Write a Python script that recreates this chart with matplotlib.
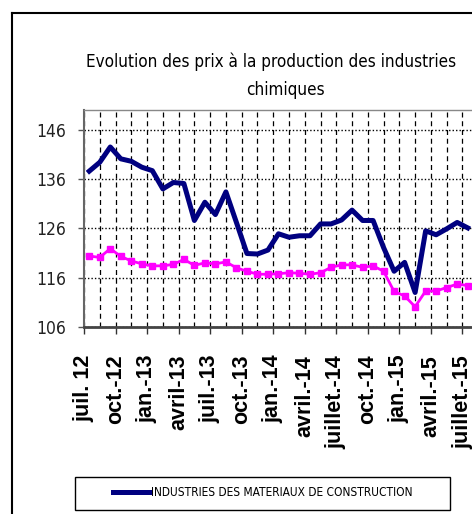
import matplotlib
matplotlib.use("Agg")
import matplotlib.pyplot as plt
from matplotlib import font_manager
from matplotlib.lines import Line2D
from matplotlib.patches import Rectangle
from matplotlib.ticker import FixedLocator

# monthly index, juil. 2012 -> juil. 2015
mois = list(range(37))
tick_labels = ["juil. 12", "oct.-12", "jan.-13", "avril-13", "juil.-13", "oct.-13",
               "jan.-14", "avril.-14", "juillet.-14", "oct.-14", "jan.-15",
               "avril.-15", "juillet.-15"]
materiaux = [137.6, 139.4, 142.5, 140.1, 139.6, 138.4, 137.7, 134.0, 135.3, 135.1,
             127.6, 131.3, 128.8, 133.4, 127.2, 120.9, 120.8, 121.6, 124.9, 124.2,
             124.5, 124.5, 126.9, 126.9, 127.7, 129.7, 127.6, 127.6, 122.1, 117.3,
             119.1, 113.0, 125.5, 124.7, 125.9, 127.2, 126.1]
chimie = [120.4, 120.1, 121.9, 120.3, 119.4, 118.8, 118.4, 118.4, 118.7, 119.7,
          118.5, 119.0, 118.8, 119.2, 118.0, 117.3, 116.7, 116.7, 116.8, 117.0,
          116.9, 116.7, 117.0, 118.1, 118.6, 118.6, 118.1, 118.4, 117.3, 113.2,
          112.3, 110.1, 113.3, 113.3, 114.0, 114.7, 114.4]
y_ticks = [106, 116, 126, 136, 146]

# the original uses a condensed face; take one if the system has it
fonts = font_manager.fontManager.ttflist
if any(f.name == "Liberation Sans Narrow" for f in fonts):
    narrow = dict(family="Liberation Sans Narrow")
elif any(f.name == "DejaVu Sans" and "ondensed" in str(f.stretch) for f in fonts):
    narrow = dict(family="DejaVu Sans", stretch="condensed")
else:
    narrow = dict(family="Liberation Sans")

W, H = 472, 514

fig = plt.figure(figsize=(W / 100, H / 100), dpi=100)
fig.patch.set_facecolor("white")

# outer chart frame (right/bottom edges are cropped in the original)
fig.add_artist(Line2D([12 / W, 12 / W], [0, 1 - 13 / H], color="black", lw=1.5))
fig.add_artist(Line2D([12 / W, 1], [1 - 13 / H, 1 - 13 / H], color="black", lw=1.5))

t1 = fig.text(271 / W, 1 - 67 / H, "Evolution des prix à la production des industries",
              ha="center", va="baseline", fontsize=16, **narrow)
t2 = fig.text(285 / W, 1 - 95 / H, "chimiques", ha="center", va="baseline",
              fontsize=16, **narrow)

ax = fig.add_axes([84 / W, 1 - 327 / H, (474 - 84) / W, (327 - 110) / H])
ax.plot(mois, chimie, color="#FF00FF", lw=2, marker="s", markersize=5,
        label="_nolegend_", zorder=3)
ax.plot(mois, materiaux, color="#000080", lw=3.6, solid_joinstyle="round",
        label="INDUSTRIES DES MATERIAUX DE CONSTRUCTION", zorder=4)

ax.set_xlim(-0.5, 36.6)
ax.set_ylim(106, 150)
ax.set_yticks(y_ticks)
ax.set_yticklabels([str(v) for v in y_ticks], fontsize=12.5, color="#222222", **narrow)

major_x = [-0.5 + 3 * i for i in range(13)]
ax.xaxis.set_major_locator(FixedLocator(major_x))
ax.xaxis.set_minor_locator(FixedLocator([1 + 3 * i for i in range(13)]))
ax.set_xticklabels(tick_labels, rotation=90, fontsize=15.5, fontweight="bold",
                   family=["Liberation Sans", "DejaVu Sans"], va="top", ha="center")
ax.tick_params(axis="x", which="major", length=5, width=1, color="#333333", pad=15)
ax.tick_params(axis="x", which="minor", length=0)
ax.tick_params(axis="y", length=4, width=1, color="#555555", pad=9)

ax.grid(axis="y", color="black", linestyle=(0, (1, 1.5)), lw=1)
ax.grid(axis="x", which="both", color="black", linestyle=(0, (4, 3)), lw=0.9)
ax.set_axisbelow(True)

ax.spines["right"].set_visible(False)
ax.spines["top"].set_color("#888888")
ax.spines["top"].set_linewidth(1)
ax.spines["left"].set_color("#666666")
ax.spines["left"].set_linewidth(1.5)
ax.spines["bottom"].set_color("#444444")
ax.spines["bottom"].set_linewidth(2)

# legend box
fig.add_artist(Rectangle((75 / W, 1 - 510 / H), (450 - 75) / W, (510 - 477) / H,
                         transform=fig.transFigure, fill=False, edgecolor="black", lw=1))
prop = font_manager.FontProperties(size=10, **narrow)
leg = fig.legend(loc="center", bbox_to_anchor=(263 / W, 1 - 493 / H), frameon=False,
                 handlelength=2.6, handletextpad=0.15, prop=prop)

# fit text widths to the original (title line ~371 px, legend text ~263 px)
fig.canvas.draw()
s = 371 / t1.get_window_extent().width
t1.set_fontsize(t1.get_fontsize() * s)
t2.set_fontsize(t2.get_fontsize() * s)
lt = leg.get_texts()[0]
lt.set_fontsize(lt.get_fontsize() * 263 / lt.get_window_extent().width)

fig.savefig("out.png", dpi=100)
